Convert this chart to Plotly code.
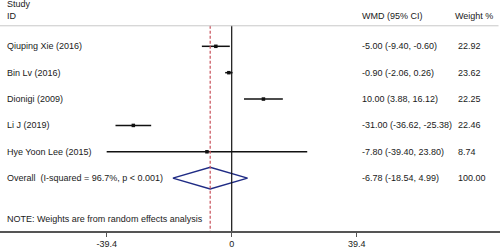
import plotly.graph_objects as go

studies = ["Qiuping Xie (2016)", "Bin Lv (2016)", "Dionigi (2009)", "Li J (2019)", "Hye Yoon Lee (2015)"]
est = [-5.00, -0.90, 10.00, -31.00, -7.80]
lo = [-9.40, -2.06, 3.88, -36.62, -39.40]
hi = [-0.60, 0.26, 16.12, -25.38, 23.80]
weights = [22.92, 23.62, 22.25, 22.46, 8.74]
overall_label = "Overall  (I-squared = 96.7%, p < 0.001)"
overall = [-6.78, -18.54, 4.99]
overall_weight = 100.00
tick_vals = [-39.4, 0, 39.4]
tick_text = ["-39.4", "0", "39.4"]
note = "NOTE: Weights are from random effects analysis"

W, H = 500, 249
FONT = "Liberation Sans, Arial, sans-serif"
TXT = "#1a1a1a"

n = len(studies)
rows = list(range(n))
ov_row = n

fig = go.Figure()

# CI lines
xs, ys = [], []
for i in rows:
    xs += [lo[i], hi[i], None]
    ys += [i, i, None]
fig.add_trace(go.Scatter(x=xs, y=ys, mode="lines", line=dict(color="#111111", width=1.5),
                         hoverinfo="skip", showlegend=False))
fig.add_trace(go.Scatter(x=est, y=rows, mode="markers",
                         marker=dict(symbol="square", size=3.5, color="#111111"),
                         showlegend=False))

# diamond
hh = 0.41
fig.add_trace(go.Scatter(x=[overall[1], overall[0], overall[2], overall[0], overall[1]],
                         y=[ov_row, ov_row - hh, ov_row, ov_row + hh, ov_row],
                         mode="lines", line=dict(color="#1f2b85", width=1.5),
                         showlegend=False))

top_k = -0.778
bot_k = 7.004
# zero line
fig.add_shape(type="line", x0=0, x1=0, y0=top_k, y1=bot_k, xref="x", yref="y",
              line=dict(color="#111111", width=1.2))
# overall dashed line
fig.add_shape(type="line", x0=overall[0], x1=overall[0], y0=top_k, y1=bot_k, xref="x", yref="y",
              line=dict(color="#c8505a", width=1.2, dash="3px,2px"))
# header line
fig.add_shape(type="line", x0=0, x1=0.997, y0=top_k, y1=top_k, xref="paper", yref="y",
              line=dict(color="#c8c8c8", width=1))

ann = []
def txt(x_px, k, s):
    ann.append(dict(x=x_px / W, y=k, xref="paper", yref="y", text=s, showarrow=False,
                    xanchor="left", yanchor="middle", font=dict(family=FONT, size=9, color=TXT)))

txt(5, -1.6, "Study")
txt(5, -1.15, "ID")
txt(360, -1.15, "WMD (95% CI)")
txt(453, -1.15, "Weight %")
for i in rows:
    txt(5, i, studies[i])
    txt(360, i, f"{est[i]:.2f} ({lo[i]:.2f}, {hi[i]:.2f})")
    txt(456, i, f"{weights[i]:.2f}")
txt(5, ov_row, overall_label)
txt(360, ov_row, f"{overall[0]:.2f} ({overall[1]:.2f}, {overall[2]:.2f})")
txt(456, ov_row, f"{overall_weight:.2f}")
txt(5, 6.54, note)

px_per = 3.173
zero_px = 231.7
fig.update_layout(
    width=W, height=H,
    margin=dict(l=0, r=0, t=0, b=16),
    plot_bgcolor="white", paper_bgcolor="white",
    annotations=ann,
    hovermode=False,
    xaxis=dict(range=[-zero_px / px_per, (W - zero_px) / px_per], showgrid=False, zeroline=False,
               tickvals=tick_vals, ticktext=tick_text, ticks="outside", ticklen=4,
               tickcolor="#555555", showline=True, linecolor="#555555", linewidth=1.5,
               tickfont=dict(family=FONT, size=9, color=TXT), fixedrange=True),
    yaxis=dict(range=[bot_k, -1.756], showgrid=False, zeroline=False, showticklabels=False,
               visible=False, fixedrange=True),
)

fig.write_html("out.html", config={"displayModeBar": False, "staticPlot": True},
               post_script="document.body.style.margin='0';document.body.style.padding='0';document.body.style.overflow='hidden';")
